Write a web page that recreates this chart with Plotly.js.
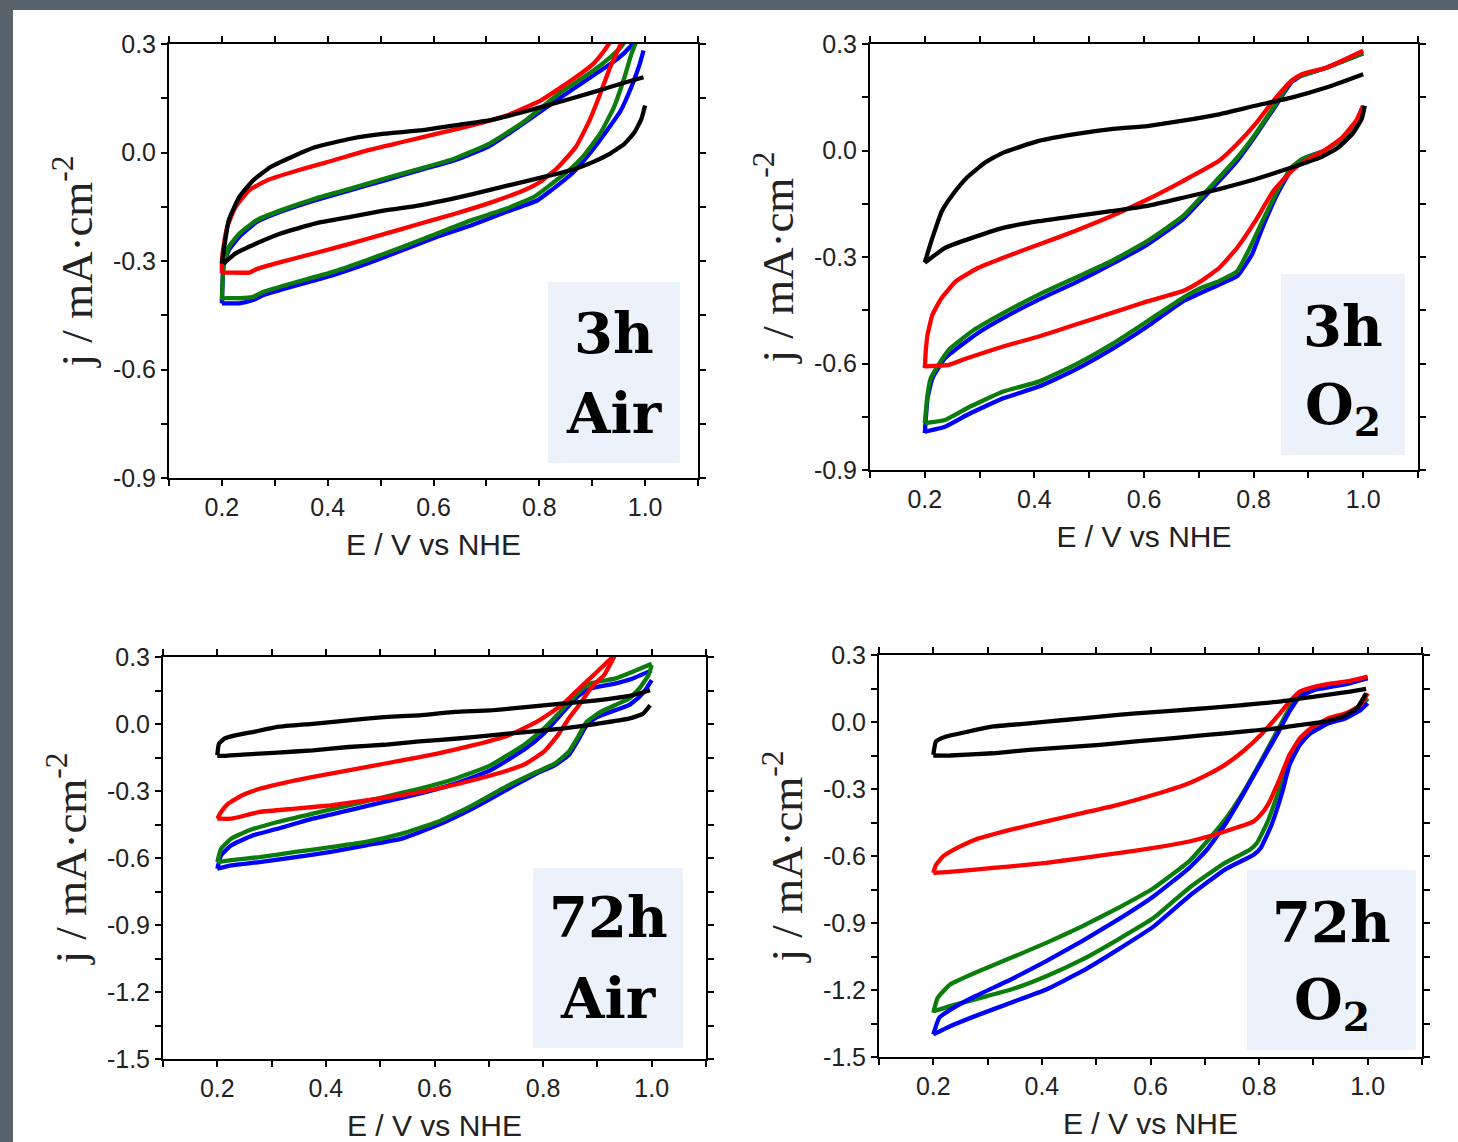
<!DOCTYPE html>
<html>
<head>
<meta charset="utf-8">
<script src="https://cdn.plot.ly/plotly-3.0.1.min.js"></script>
<style>
  html, body { margin: 0; padding: 0; background: #ffffff; }
  #chart { width: 1458px; height: 1142px; }
</style>
</head>
<body>
<div id="chart"></div>
<script>
// ---------- tick labels ----------
const xTickVals = [0.2, 0.4, 0.6, 0.8, 1.0];
const xTickText = ['0.2', '0.4', '0.6', '0.8', '1.0'];
const yTickValsTop = [-0.9, -0.6, -0.3, 0.0, 0.3];
const yTickTextTop = ['-0.9', '-0.6', '-0.3', '0.0', '0.3'];
const yTickValsBottom = [-1.5, -1.2, -0.9, -0.6, -0.3, 0.0, 0.3];
const yTickTextBottom = ['-1.5', '-1.2', '-0.9', '-0.6', '-0.3', '0.0', '0.3'];

const panelLabels = [['3h', 'Air'], ['3h', 'O<sub>2</sub>'], ['72h', 'Air'], ['72h', 'O<sub>2</sub>']];

// ---------- Panel 1: 3h Air (anodic branch, null, cathodic branch) ----------
const p1BlackE = [0.200,0.213,0.233,0.259,0.292,0.331,0.377,0.443,0.508,0.574,0.639,0.705,0.770,0.836,0.902,0.954,0.997, null,
  1.000,0.993,0.980,0.961,0.934,0.902,0.869,0.836,0.770,0.705,0.639,0.574,0.508,0.443,0.377,0.311,0.266,0.226,0.203];
const p1BlackJ = [-0.307,-0.187,-0.123,-0.077,-0.040,-0.013,0.015,0.038,0.052,0.061,0.075,0.089,0.112,0.139,0.167,0.190,0.208, null,
  0.130,0.093,0.056,0.024,-0.003,-0.026,-0.045,-0.058,-0.081,-0.104,-0.127,-0.146,-0.160,-0.178,-0.196,-0.224,-0.251,-0.279,-0.307];
const p1RedE = [0.200,0.200,0.203,0.210,0.226,0.252,0.285,0.344,0.410,0.475,0.541,0.607,0.672,0.738,0.803,0.869,0.902,0.925,0.940, null,
  0.962,0.954,0.934,0.915,0.895,0.869,0.836,0.803,0.770,0.705,0.639,0.574,0.508,0.443,0.377,0.311,0.266,0.252,0.203,0.200];
const p1RedJ = [-0.334,-0.300,-0.261,-0.206,-0.150,-0.104,-0.077,-0.049,-0.022,0.006,0.029,0.052,0.075,0.102,0.144,0.208,0.245,0.286,0.320, null,
  0.330,0.300,0.236,0.162,0.089,0.015,-0.040,-0.080,-0.105,-0.140,-0.170,-0.197,-0.225,-0.252,-0.278,-0.303,-0.322,-0.332,-0.332,-0.334];
const p1GreenE = [0.200,0.203,0.213,0.233,0.266,0.311,0.377,0.443,0.508,0.574,0.639,0.705,0.770,0.836,0.902,0.934,0.954,0.968, null,
  0.990,0.974,0.961,0.941,0.915,0.882,0.849,0.816,0.790,0.738,0.672,0.607,0.541,0.475,0.410,0.344,0.279,0.259,0.233,0.203,0.200];
const p1GreenJ = [-0.408,-0.316,-0.261,-0.224,-0.187,-0.160,-0.127,-0.100,-0.072,-0.045,-0.017,0.024,0.084,0.162,0.226,0.263,0.291,0.320, null,
  0.330,0.272,0.208,0.125,0.052,-0.012,-0.058,-0.095,-0.123,-0.155,-0.187,-0.224,-0.261,-0.297,-0.330,-0.357,-0.385,-0.399,-0.403,-0.403,-0.408];
const p1BlueE = [0.200,0.203,0.213,0.233,0.266,0.311,0.377,0.443,0.508,0.574,0.639,0.705,0.770,0.836,0.902,0.948,0.971,0.985, null,
  0.997,0.990,0.974,0.954,0.928,0.895,0.862,0.823,0.797,0.738,0.672,0.607,0.541,0.475,0.410,0.344,0.279,0.259,0.233,0.203,0.200];
const p1BlueJ = [-0.417,-0.316,-0.270,-0.233,-0.192,-0.164,-0.132,-0.104,-0.077,-0.049,-0.022,0.017,0.080,0.148,0.213,0.259,0.291,0.320, null,
  0.282,0.245,0.181,0.116,0.061,-0.003,-0.058,-0.104,-0.132,-0.164,-0.201,-0.233,-0.270,-0.307,-0.339,-0.366,-0.394,-0.408,-0.417,-0.417,-0.417];

// ---------- Panel 2: 3h O2 ----------
const p2BlackE = [0.200,0.208,0.218,0.231,0.251,0.277,0.310,0.343,0.408,0.474,0.540,0.606,0.671,0.737,0.803,0.869,0.934,1.000, null,
  1.003,0.997,0.980,0.954,0.921,0.869,0.803,0.737,0.671,0.606,0.540,0.474,0.408,0.343,0.277,0.237,0.200];
const p2BlackJ = [-0.316,-0.274,-0.227,-0.171,-0.124,-0.076,-0.034,-0.006,0.027,0.046,0.060,0.069,0.084,0.102,0.126,0.149,0.178,0.215, null,
  0.126,0.088,0.046,0.008,-0.020,-0.048,-0.081,-0.109,-0.133,-0.156,-0.171,-0.185,-0.199,-0.218,-0.251,-0.274,-0.316];
const p2RedE = [0.200,0.202,0.205,0.214,0.231,0.257,0.297,0.343,0.408,0.474,0.540,0.606,0.671,0.737,0.770,0.803,0.836,0.869,0.888,0.934,1.000, null,
  1.000,0.987,0.961,0.928,0.895,0.869,0.836,0.803,0.770,0.737,0.704,0.671,0.606,0.540,0.474,0.408,0.343,0.277,0.244,0.200];
const p2RedJ = [-0.613,-0.560,-0.519,-0.462,-0.415,-0.368,-0.331,-0.302,-0.265,-0.227,-0.185,-0.138,-0.086,-0.029,0.018,0.074,0.140,0.196,0.215,0.234,0.281, null,
  0.126,0.084,0.036,-0.001,-0.029,-0.058,-0.114,-0.199,-0.274,-0.331,-0.368,-0.396,-0.425,-0.458,-0.491,-0.524,-0.552,-0.585,-0.604,-0.608];
const p2GreenE = [0.200,0.205,0.211,0.231,0.244,0.290,0.343,0.408,0.474,0.540,0.606,0.671,0.737,0.770,0.803,0.836,0.869,0.888,0.934,1.000, null,
  1.000,0.987,0.961,0.928,0.888,0.869,0.843,0.816,0.790,0.770,0.737,0.704,0.671,0.606,0.540,0.474,0.408,0.343,0.277,0.237,0.200];
const p2GreenJ = [-0.768,-0.688,-0.641,-0.589,-0.561,-0.505,-0.458,-0.406,-0.359,-0.312,-0.255,-0.185,-0.076,-0.020,0.046,0.121,0.196,0.211,0.234,0.274, null,
  0.126,0.079,0.032,-0.001,-0.025,-0.048,-0.114,-0.199,-0.284,-0.340,-0.368,-0.387,-0.415,-0.481,-0.547,-0.604,-0.651,-0.679,-0.726,-0.759,-0.768];
const p2BlueE = [0.200,0.205,0.214,0.237,0.297,0.343,0.408,0.474,0.540,0.606,0.671,0.737,0.770,0.803,0.836,0.869,0.888,0.934,1.000, null,
  1.000,0.987,0.961,0.928,0.888,0.869,0.843,0.816,0.797,0.770,0.737,0.671,0.606,0.540,0.474,0.408,0.343,0.277,0.237,0.200];
const p2BlueJ = [-0.796,-0.698,-0.641,-0.585,-0.514,-0.472,-0.420,-0.373,-0.321,-0.265,-0.194,-0.086,-0.029,0.041,0.116,0.192,0.211,0.234,0.274, null,
  0.126,0.079,0.032,-0.001,-0.025,-0.053,-0.124,-0.218,-0.293,-0.354,-0.378,-0.425,-0.496,-0.561,-0.618,-0.665,-0.698,-0.745,-0.778,-0.792];

// ---------- Panel 3: 72h Air ----------
const p3BlackE = [0.200,0.203,0.213,0.233,0.265,0.311,0.376,0.442,0.507,0.572,0.638,0.703,0.768,0.834,0.899,0.964,0.997, null,
  0.997,0.984,0.958,0.899,0.834,0.768,0.703,0.638,0.572,0.507,0.442,0.376,0.311,0.246,0.213,0.200];
const p3BlackJ = [-0.140,-0.088,-0.066,-0.051,-0.036,-0.013,0.001,0.016,0.031,0.039,0.054,0.061,0.076,0.091,0.106,0.128,0.151, null,
  0.084,0.046,0.024,0.001,-0.021,-0.036,-0.051,-0.066,-0.078,-0.093,-0.103,-0.118,-0.128,-0.137,-0.143,-0.143];
const p3RedE = [0.200,0.207,0.220,0.246,0.278,0.344,0.409,0.474,0.540,0.605,0.670,0.736,0.788,0.834,0.866,0.899,0.925,0.935, null,
  0.935,0.912,0.892,0.866,0.847,0.827,0.801,0.768,0.736,0.670,0.605,0.540,0.474,0.409,0.344,0.278,0.226,0.203,0.200];
const p3RedJ = [-0.424,-0.394,-0.357,-0.319,-0.290,-0.252,-0.222,-0.193,-0.163,-0.133,-0.096,-0.051,0.009,0.084,0.158,0.233,0.293,0.320, null,
  0.320,0.218,0.173,0.084,0.024,-0.051,-0.125,-0.178,-0.207,-0.252,-0.290,-0.319,-0.342,-0.364,-0.379,-0.394,-0.424,-0.424,-0.424];
const p3GreenE = [0.200,0.207,0.226,0.259,0.311,0.376,0.442,0.507,0.572,0.638,0.703,0.768,0.801,0.834,0.866,0.886,0.932,0.964,1.000, null,
  1.000,0.994,0.977,0.958,0.932,0.906,0.880,0.866,0.847,0.821,0.788,0.736,0.670,0.605,0.540,0.474,0.409,0.344,0.278,0.226,0.200];
const p3GreenJ = [-0.618,-0.558,-0.513,-0.476,-0.439,-0.401,-0.364,-0.327,-0.290,-0.245,-0.185,-0.088,-0.021,0.061,0.143,0.181,0.203,0.233,0.270, null,
  0.263,0.218,0.158,0.113,0.084,0.054,0.009,-0.051,-0.125,-0.178,-0.215,-0.275,-0.364,-0.439,-0.491,-0.528,-0.551,-0.573,-0.596,-0.610,-0.618];
const p3BlueE = [0.200,0.207,0.226,0.265,0.311,0.376,0.442,0.507,0.572,0.638,0.703,0.768,0.801,0.834,0.866,0.886,0.932,0.964,1.000, null,
  1.000,0.990,0.977,0.958,0.932,0.899,0.880,0.866,0.847,0.821,0.788,0.736,0.670,0.605,0.540,0.474,0.409,0.344,0.278,0.226,0.200];
const p3BlueJ = [-0.648,-0.588,-0.543,-0.499,-0.469,-0.424,-0.387,-0.349,-0.312,-0.267,-0.207,-0.110,-0.043,0.046,0.128,0.158,0.181,0.203,0.240, null,
  0.196,0.158,0.121,0.084,0.061,0.031,-0.006,-0.066,-0.140,-0.185,-0.222,-0.290,-0.379,-0.454,-0.513,-0.543,-0.573,-0.596,-0.618,-0.633,-0.648];

// ---------- Panel 4: 72h O2 ----------
const p4BlackE = [0.200,0.205,0.224,0.264,0.310,0.376,0.441,0.507,0.573,0.638,0.704,0.770,0.836,0.902,0.967,0.997, null,
  0.997,0.980,0.954,0.921,0.869,0.836,0.770,0.704,0.638,0.573,0.507,0.441,0.376,0.310,0.231,0.200];
const p4BlackJ = [-0.147,-0.087,-0.065,-0.043,-0.020,-0.006,0.009,0.024,0.039,0.050,0.062,0.076,0.091,0.114,0.136,0.148, null,
  0.128,0.061,0.024,0.002,-0.015,-0.028,-0.043,-0.058,-0.073,-0.087,-0.102,-0.114,-0.125,-0.140,-0.150,-0.150];
const p4RedE = [0.200,0.205,0.218,0.244,0.277,0.343,0.408,0.474,0.540,0.606,0.671,0.704,0.737,0.770,0.803,0.836,0.856,0.875,0.902,0.934,0.967,1.000, null,
  1.000,0.987,0.960,0.928,0.895,0.875,0.856,0.836,0.816,0.803,0.790,0.737,0.671,0.606,0.540,0.474,0.408,0.343,0.277,0.224,0.200];
const p4RedJ = [-0.676,-0.639,-0.602,-0.564,-0.527,-0.482,-0.445,-0.408,-0.371,-0.326,-0.274,-0.237,-0.192,-0.132,-0.058,0.032,0.091,0.136,0.158,0.173,0.184,0.203, null,
  0.129,0.076,0.039,0.017,-0.028,-0.073,-0.147,-0.266,-0.371,-0.415,-0.445,-0.490,-0.535,-0.564,-0.587,-0.609,-0.631,-0.646,-0.661,-0.672,-0.676];
const p4GreenE = [0.200,0.208,0.231,0.277,0.343,0.408,0.474,0.540,0.606,0.671,0.704,0.737,0.770,0.803,0.836,0.856,0.875,0.902,0.934,0.967,1.000, null,
  1.000,0.987,0.960,0.928,0.895,0.875,0.856,0.836,0.816,0.796,0.783,0.737,0.671,0.606,0.540,0.474,0.408,0.343,0.277,0.231,0.200];
const p4GreenJ = [-1.302,-1.235,-1.175,-1.123,-1.056,-0.989,-0.915,-0.833,-0.743,-0.624,-0.535,-0.438,-0.318,-0.177,-0.028,0.062,0.121,0.151,0.166,0.181,0.196, null,
  0.106,0.069,0.032,0.009,-0.035,-0.087,-0.177,-0.311,-0.445,-0.542,-0.572,-0.631,-0.743,-0.877,-0.974,-1.064,-1.138,-1.198,-1.242,-1.272,-1.295];
const p4BlueE = [0.200,0.211,0.237,0.277,0.343,0.408,0.474,0.540,0.606,0.671,0.704,0.737,0.770,0.803,0.836,0.856,0.875,0.902,0.934,0.967,1.000, null,
  1.000,0.987,0.960,0.928,0.895,0.875,0.856,0.843,0.823,0.803,0.790,0.737,0.671,0.606,0.540,0.474,0.408,0.343,0.277,0.231,0.200];
const p4BlueJ = [-1.399,-1.324,-1.280,-1.228,-1.153,-1.071,-0.981,-0.885,-0.780,-0.654,-0.572,-0.460,-0.326,-0.184,-0.043,0.047,0.114,0.144,0.158,0.173,0.196, null,
  0.084,0.054,0.017,-0.006,-0.050,-0.102,-0.192,-0.311,-0.460,-0.564,-0.594,-0.661,-0.780,-0.915,-1.019,-1.116,-1.198,-1.257,-1.317,-1.362,-1.399];

// ---------- styling ----------
const W = 1458, H = 1142;
const COLORS = { black: '#000000', red: '#ff0000', green: '#0a7d0a', blue: '#0000ff' };
const SANS = 'Liberation Sans, Arial, sans-serif';
const SERIF = 'Liberation Serif, Times New Roman, serif';
const SLAB = 'DejaVu Serif, serif';

// pixel boxes of each plot area [left, right, top, bottom]
const plotBoxes = [[169, 698, 44, 478], [870, 1418, 44, 470], [163, 706, 657, 1059], [879, 1422, 655, 1057]];
const labelBoxes = [[548, 680, 282, 463], [1281, 1405, 274, 455], [533, 683, 868, 1048], [1247, 1416, 870, 1050]];
const labelLineY = [[333, 413], [326, 408], [917, 998], [922, 1003]];

const px = x => x / W;
const py = y => 1 - y / H;

function line(E, J, color, ax) {
  return { x: E, y: J, type: 'scatter', mode: 'lines', xaxis: 'x' + ax, yaxis: 'y' + ax,
    connectgaps: false, line: { color: color, width: 4.3, shape: 'spline', smoothing: 0.4 },
    hoverinfo: 'skip', showlegend: false };
}

const traces = [
  line(p1BlueE, p1BlueJ, COLORS.blue, ''), line(p1GreenE, p1GreenJ, COLORS.green, ''),
  line(p1RedE, p1RedJ, COLORS.red, ''), line(p1BlackE, p1BlackJ, COLORS.black, ''),
  line(p2BlueE, p2BlueJ, COLORS.blue, '2'), line(p2GreenE, p2GreenJ, COLORS.green, '2'),
  line(p2RedE, p2RedJ, COLORS.red, '2'), line(p2BlackE, p2BlackJ, COLORS.black, '2'),
  line(p3BlueE, p3BlueJ, COLORS.blue, '3'), line(p3GreenE, p3GreenJ, COLORS.green, '3'),
  line(p3RedE, p3RedJ, COLORS.red, '3'), line(p3BlackE, p3BlackJ, COLORS.black, '3'),
  line(p4GreenE, p4GreenJ, COLORS.green, '4'), line(p4BlueE, p4BlueJ, COLORS.blue, '4'),
  line(p4RedE, p4RedJ, COLORS.red, '4'), line(p4BlackE, p4BlackJ, COLORS.black, '4'),
];

function xAxis(i) {
  const b = plotBoxes[i];
  return {
    domain: [px(b[0]), px(b[1])], range: [0.1, 1.1], anchor: 'y' + (i ? i + 1 : ''),
    tickmode: 'array', tickvals: xTickVals, ticktext: xTickText,
    minor: { tickmode: 'linear', tick0: 0.1, dtick: 0.1, ticks: 'outside', ticklen: 6, tickwidth: 2, tickcolor: '#000' },
    showline: true, linecolor: '#000', linewidth: 2, mirror: 'allticks',
    ticks: 'outside', ticklen: 6, tickwidth: 2, tickcolor: '#000',
    showgrid: false, zeroline: false,
    tickfont: { family: SANS, size: 25, color: '#222' },
    title: { text: 'E / V vs NHE', font: { family: SANS, size: 30, color: '#222' }, standoff: 14 },
    fixedrange: true
  };
}
function yAxis(i, vals, text, range) {
  const b = plotBoxes[i];
  return {
    domain: [py(b[3]), py(b[2])], range: range, anchor: 'x' + (i ? i + 1 : ''),
    tickmode: 'array', tickvals: vals, ticktext: text,
    minor: { tickmode: 'linear', tick0: 0, dtick: 0.15, ticks: 'outside', ticklen: 6, tickwidth: 2, tickcolor: '#000' },
    showline: true, linecolor: '#000', linewidth: 2, mirror: 'allticks',
    ticks: 'outside', ticklen: 6, tickwidth: 2, tickcolor: '#000',
    showgrid: false, zeroline: false,
    tickfont: { family: SANS, size: 25, color: '#222' },
    title: { text: 'j / mA·cm<sup>-2</sup>', font: { family: SERIF, size: 45, color: '#222' }, standoff: 6 },
    fixedrange: true
  };
}

const shapes = [
  // slide frame (left and top strips)
  { type: 'rect', xref: 'paper', yref: 'paper', x0: 0, x1: px(13), y0: 0, y1: 1, fillcolor: '#59646a', line: { width: 0 } },
  { type: 'rect', xref: 'paper', yref: 'paper', x0: 0, x1: 1, y0: py(10), y1: 1, fillcolor: '#59646a', line: { width: 0 } },
];
const annotations = [];
labelBoxes.forEach((b, i) => {
  shapes.push({ type: 'rect', xref: 'paper', yref: 'paper', x0: px(b[0]), x1: px(b[1]), y0: py(b[3]), y1: py(b[2]),
    fillcolor: '#ebf2fa', line: { width: 0 }, layer: 'above' });
  const cx = px((b[0] + b[1]) / 2);
  panelLabels[i].forEach((t, k) => {
    annotations.push({ xref: 'paper', yref: 'paper', x: cx, y: py(labelLineY[i][k]), xanchor: 'center', yanchor: 'middle',
      text: t, showarrow: false, font: { family: SLAB, size: 56, color: '#000', weight: 'bold' } });
  });
});

const layout = {
  width: W, height: H,
  margin: { l: 0, r: 0, t: 0, b: 0 },
  paper_bgcolor: '#ffffff', plot_bgcolor: '#ffffff',
  showlegend: false,
  xaxis: xAxis(0), xaxis2: xAxis(1), xaxis3: xAxis(2), xaxis4: xAxis(3),
  yaxis: yAxis(0, yTickValsTop, yTickTextTop, [-0.9, 0.3]),
  yaxis2: yAxis(1, yTickValsTop, yTickTextTop, [-0.9, 0.3]),
  yaxis3: yAxis(2, yTickValsBottom, yTickTextBottom, [-1.5, 0.3]),
  yaxis4: yAxis(3, yTickValsBottom, yTickTextBottom, [-1.5, 0.3]),
  shapes: shapes, annotations: annotations
};

Plotly.newPlot('chart', traces, layout, { displayModeBar: false, staticPlot: true });
</script>
</body>
</html>
